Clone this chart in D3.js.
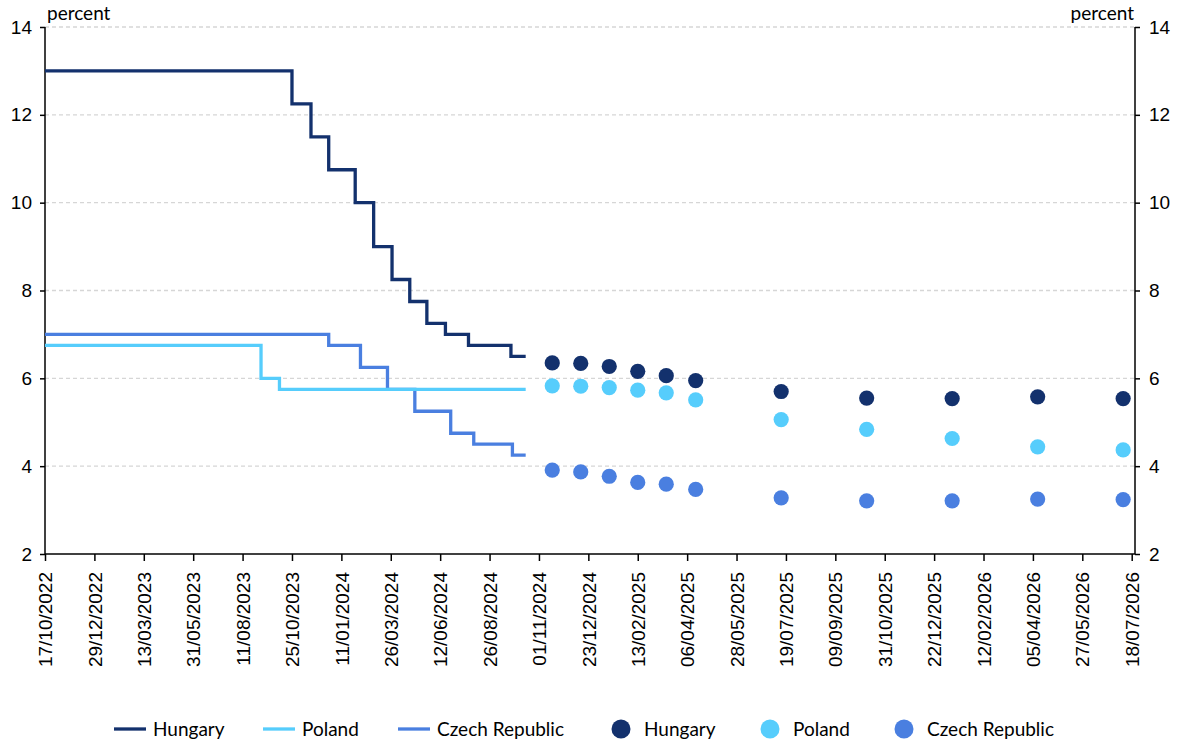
<!DOCTYPE html>
<html>
<head>
<meta charset="utf-8">
<script src="https://cdn.jsdelivr.net/npm/d3@7"></script>
<style>
  body { margin: 0; background: #fff; }
  svg { display: block; font-family: Lato, "Open Sans", sans-serif; }
  .tick text { fill: #000; }
</style>
</head>
<body>
<div id="chart"></div>
<script>
// x axis tick labels (category style axis, evenly spaced)
let tickLabels = ["17/10/2022", "29/12/2022", "13/03/2023", "31/05/2023", "11/08/2023", "25/10/2023",
    "11/01/2024", "26/03/2024", "12/06/2024", "26/08/2024", "01/11/2024", "23/12/2024", "13/02/2025",
    "06/04/2025", "28/05/2025", "19/07/2025", "09/09/2025", "31/10/2025", "22/12/2025", "12/02/2026",
    "05/04/2026", "27/05/2026", "18/07/2026"];
let yTicks = [2, 4, 6, 8, 10, 12, 14];

// policy rates (step lines): change dates and values, last entry = end of data
let huDates = ["17/10/2022", "25/10/2023", "24/11/2023", "22/12/2023", "01/02/2024", "29/02/2024", "28/03/2024",
    "25/04/2024", "22/05/2024", "20/06/2024", "25/07/2024", "24/09/2024", "14/10/2024"];
let huRates = [13, 12.25, 11.5, 10.75, 10, 9, 8.25, 7.75, 7.25, 7, 6.75, 6.5, 6.5];

let plDates = ["17/10/2022", "08/09/2023", "06/10/2023", "14/10/2024"];
let plRates = [6.75, 6, 5.75, 5.75];

let czDates = ["17/10/2022", "22/12/2023", "09/02/2024", "21/03/2024", "03/05/2024", "28/06/2024",
    "02/08/2024", "26/09/2024", "14/10/2024"];
let czRates = [7, 6.75, 6.25, 5.75, 5.25, 4.75, 4.5, 4.25, 4.25];

// expectations (dots)
let fcDates = ["15/11/2024", "15/12/2024", "14/01/2025", "13/02/2025", "15/03/2025", "15/04/2025",
    "14/07/2025", "12/10/2025", "10/01/2026", "10/04/2026", "09/07/2026"];
let huForecast = [6.35, 6.34, 6.27, 6.16, 6.06, 5.95, 5.70, 5.55, 5.54, 5.58, 5.54];
let plForecast = [5.83, 5.82, 5.79, 5.73, 5.67, 5.51, 5.06, 4.84, 4.63, 4.44, 4.37];
let czForecast = [3.91, 3.87, 3.77, 3.63, 3.59, 3.47, 3.28, 3.21, 3.21, 3.25, 3.24];

let countries = ["Hungary", "Poland", "Czech Republic"];
let colors = ["#13316d", "#56cdfc", "#4a7fe0"];

let parse = d3.timeParse("%d/%m/%Y");
let width = 1179, height = 747;
let plotLeft = 45, plotRight = 1135, plotTop = 27, plotBottom = 554;
let lastTickX = 1131.7;

let svg = d3.select("#chart").append("svg")
    .attr("width", width)
    .attr("height", height);

let tickDates = tickLabels.map(parse);
let step = (lastTickX - plotLeft) / (tickDates.length - 1);
let x = d3.scaleTime()
    .domain(tickDates)
    .range(tickDates.map(function(d, i){ return plotLeft + i * step; }));
let y = d3.scaleLinear().domain([2, 14]).range([plotBottom, plotTop]);

// grid
svg.append("g").selectAll("line")
    .data(yTicks.filter(function(d){ return d > 2; }))
    .enter().append("line")
    .attr("x1", plotLeft).attr("x2", plotRight)
    .attr("y1", function(d){ return y(d); })
    .attr("y2", function(d){ return y(d); })
    .attr("stroke", "#d6d6d6")
    .attr("stroke-width", 1.3)
    .attr("stroke-dasharray", "4,3");

// axes
let fontSize = 19;
svg.append("g")
    .attr("transform", "translate(" + plotLeft + ",0)")
    .call(d3.axisLeft(y).tickValues(yTicks).tickSize(5).tickPadding(8).tickSizeOuter(0))
    .call(function(g){
        g.select(".domain").remove();
        g.selectAll("line").attr("stroke", "#000").attr("stroke-width", 1.5);
        g.selectAll("text").style("font-size", fontSize + "px");
    });
svg.append("g")
    .attr("transform", "translate(" + plotRight + ",0)")
    .call(d3.axisRight(y).tickValues(yTicks).tickSize(5).tickPadding(9).tickSizeOuter(0))
    .call(function(g){
        g.select(".domain").remove();
        g.selectAll("line").attr("stroke", "#000").attr("stroke-width", 1.5);
        g.selectAll("text").style("font-size", fontSize + "px");
    });
svg.append("g")
    .attr("transform", "translate(0," + plotBottom + ")")
    .call(d3.axisBottom(x).tickValues(tickDates).tickFormat(d3.timeFormat("%d/%m/%Y")).tickSize(7).tickSizeOuter(0))
    .call(function(g){
        g.select(".domain").remove();
        g.selectAll("line").attr("stroke", "#000").attr("stroke-width", 1.5);
        g.selectAll("text")
            .style("font-size", fontSize + "px")
            .attr("text-anchor", "end")
            .attr("transform", "rotate(-90)")
            .attr("x", -18)
            .attr("y", 0)
            .attr("dy", "0.35em");
    });

// axis lines
svg.append("line").attr("x1", plotLeft).attr("x2", plotLeft).attr("y1", plotTop).attr("y2", plotBottom)
    .attr("stroke", "#000").attr("stroke-width", 1.5);
svg.append("line").attr("x1", plotRight).attr("x2", plotRight).attr("y1", plotTop).attr("y2", plotBottom)
    .attr("stroke", "#000").attr("stroke-width", 1.5);
svg.append("line").attr("x1", plotLeft).attr("x2", plotRight).attr("y1", plotBottom).attr("y2", plotBottom)
    .attr("stroke", "#000").attr("stroke-width", 1.5);

// unit labels
svg.append("text").attr("x", 47).attr("y", 20).style("font-size", fontSize + "px").text("percent");
svg.append("text").attr("x", 1134).attr("y", 20).attr("text-anchor", "end")
    .style("font-size", fontSize + "px").text("percent");

// step lines
let lineGen = d3.line()
    .x(function(d){ return x(d[0]); })
    .y(function(d){ return y(d[1]); })
    .curve(d3.curveStepAfter);

let rateSeries = [
    {dates: czDates, values: czRates, color: colors[2]},
    {dates: plDates, values: plRates, color: colors[1]},
    {dates: huDates, values: huRates, color: colors[0]}
];
svg.append("g").selectAll("path")
    .data(rateSeries)
    .enter().append("path")
    .attr("fill", "none")
    .attr("stroke", function(d){ return d.color; })
    .attr("stroke-width", 3.3)
    .attr("d", function(d){
        return lineGen(d.dates.map(function(t, i){ return [parse(t), d.values[i]]; }));
    });

// dots
let fcSeries = [
    {values: czForecast, color: colors[2]},
    {values: plForecast, color: colors[1]},
    {values: huForecast, color: colors[0]}
];
let dotGroups = svg.append("g").selectAll("g")
    .data(fcSeries)
    .enter().append("g")
    .attr("fill", function(d){ return d.color; });
dotGroups.selectAll("circle")
    .data(function(d){ return d.values.map(function(v, i){ return [parse(fcDates[i]), v]; }); })
    .enter().append("circle")
    .attr("cx", function(d){ return x(d[0]); })
    .attr("cy", function(d){ return y(d[1]); })
    .attr("r", 7.6);

// legend
let legendY = 729;
let lineLegendX = [114, 263, 398];
let dotLegendX = [621, 770, 904];
let legend = svg.append("g");
countries.forEach(function(name, i){
    legend.append("line")
        .attr("x1", lineLegendX[i]).attr("x2", lineLegendX[i] + 32)
        .attr("y1", legendY).attr("y2", legendY)
        .attr("stroke", colors[i]).attr("stroke-width", 3.3);
    legend.append("text")
        .attr("x", lineLegendX[i] + 39).attr("y", legendY).attr("dy", "0.35em")
        .style("font-size", fontSize + "px").text(name);
    legend.append("circle")
        .attr("cx", dotLegendX[i]).attr("cy", legendY).attr("r", 9.5)
        .attr("fill", colors[i]);
    legend.append("text")
        .attr("x", dotLegendX[i] + 23).attr("y", legendY).attr("dy", "0.35em")
        .style("font-size", fontSize + "px").text(name);
});
</script>
</body>
</html>
